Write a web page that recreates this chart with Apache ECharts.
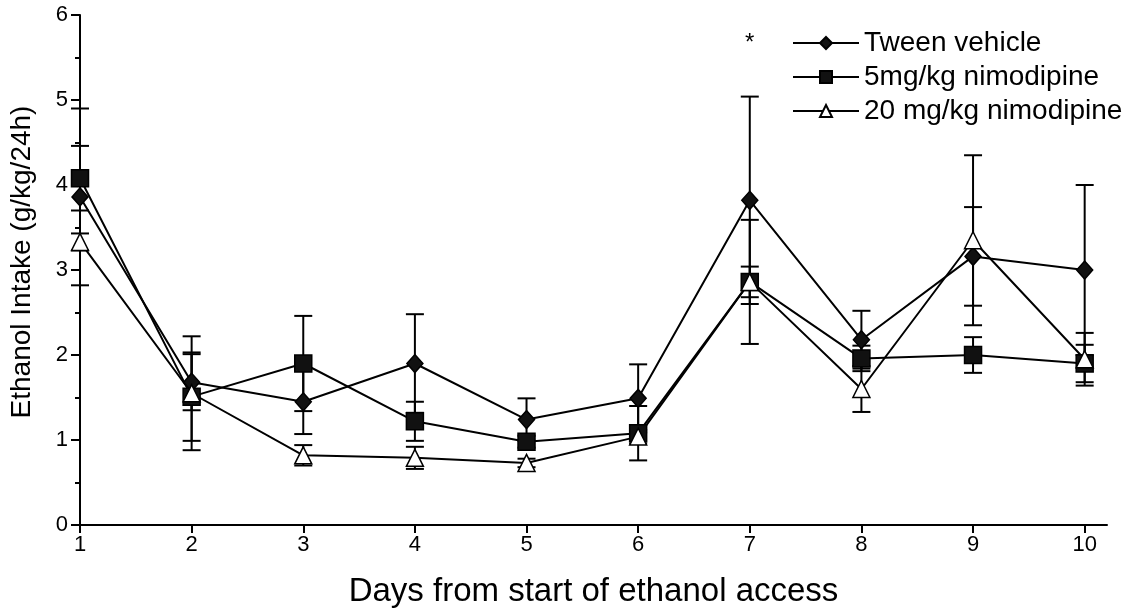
<!DOCTYPE html>
<html>
<head>
<meta charset="utf-8">
<script src="https://cdn.jsdelivr.net/npm/echarts@6/dist/echarts.min.js"></script>
<style>
html,body{margin:0;padding:0;background:#fff;}
#chart{width:1137px;height:614px;}
</style>
</head>
<body>
<div id="chart"></div>
<script>
// ---- data ----
const days = [1, 2, 3, 4, 5, 6, 7, 8, 9, 10];
const xTickLabels = [1, 2, 3, 4, 5, 6, 7, 8, 9, 10];
const yTickLabels = [0, 1, 2, 3, 4, 5, 6];
const seriesNames = ['Tween vehicle', '5mg/kg nimodipine', '20 mg/kg nimodipine'];

const tweenMean = [3.86, 1.68, 1.45, 1.90, 1.24, 1.49, 3.82, 2.18, 3.16, 3.00];
const tweenErr  = [1.04, 0.33, 0.38, 0.58, 0.25, 0.40, 1.22, 0.34, 0.58, 1.00];

const nim5Mean  = [4.08, 1.51, 1.90, 1.22, 0.98, 1.08, 2.86, 1.96, 2.00, 1.90];
const nim5Err   = [0.38, 0.52, 0.56, 0.23, 0.07, 0.32, 0.73, 0.15, 0.21, 0.22];

const nim20Mean = [3.33, 1.55, 0.82, 0.79, 0.73, 1.04, 2.86, 1.60, 3.35, 1.95];
const nim20Err  = [0.10, 0.67, 0.12, 0.13, 0.05, 0.08, 0.18, 0.27, 1.00, 0.31];

// ---- build ----
const FONT = '"Liberation Sans", Arial, Helvetica, sans-serif';
const chart = echarts.init(document.getElementById('chart'), null, {renderer: 'canvas'});

function pairs(means) { return days.map((d, i) => [d, means[i]]); }
function errData(means, errs) { return days.map((d, i) => [d, means[i] - errs[i], means[i] + errs[i]]); }

function errorSeries(means, errs) {
  return {
    type: 'custom',
    silent: true,
    z: 1,
    encode: {x: 0, y: [1, 2]},
    data: errData(means, errs),
    renderItem: function (params, api) {
      const x = api.value(0);
      const lo = api.coord([x, api.value(1)]);
      const hi = api.coord([x, api.value(2)]);
      const hw = 9;
      const st = {stroke: '#000', lineWidth: 2};
      return {
        type: 'group',
        children: [
          {type: 'line', shape: {x1: lo[0], y1: lo[1], x2: hi[0], y2: hi[1]}, style: st},
          {type: 'line', shape: {x1: lo[0] - hw, y1: lo[1], x2: lo[0] + hw, y2: lo[1]}, style: st},
          {type: 'line', shape: {x1: hi[0] - hw, y1: hi[1], x2: hi[0] + hw, y2: hi[1]}, style: st}
        ]
      };
    }
  };
}

function lineSeries(name, means, symbol, size, fill) {
  return {
    name: name,
    type: 'line',
    z: 3,
    data: pairs(means),
    symbol: symbol,
    symbolSize: size,
    showAllSymbol: true,
    lineStyle: {color: '#000', width: 2},
    itemStyle: {color: fill, borderColor: '#000', borderWidth: 1.5},
    emphasis: {disabled: true},
    animation: false
  };
}

const option = {
  animation: false,
  backgroundColor: '#fff',
  grid: {left: 80, right: 30, top: 15, bottom: 89, containLabel: false},
  legend: {
    data: seriesNames,
    orient: 'vertical',
    left: 787,
    top: 24,
    itemWidth: 66,
    itemHeight: 15,
    itemGap: 6,
    selectedMode: false,
    textStyle: {fontFamily: FONT, fontSize: 28, color: '#000', lineHeight: 28}
  },
  graphic: [{
    type: 'text', left: 745, top: 31,
    style: {text: '*', fontFamily: FONT, fontSize: 24, fill: '#000'}
  }],
  xAxis: {
    type: 'value',
    min: 1,
    max: 10.2,
    interval: 1,
    name: 'Days from start of ethanol access',
    nameLocation: 'middle',
    nameGap: 50,
    nameTextStyle: {fontFamily: FONT, fontSize: 33, color: '#000'},
    splitLine: {show: false},
    axisLine: {show: true, onZero: false, lineStyle: {color: '#000', width: 2}},
    axisTick: {show: true, inside: false, length: 8, lineStyle: {color: '#000', width: 2}, customValues: xTickLabels},
    axisLabel: {fontFamily: FONT, fontSize: 22, color: '#000', margin: 9, customValues: xTickLabels}
  },
  yAxis: {
    type: 'value',
    min: 0,
    max: 6,
    interval: 1,
    name: 'Ethanol Intake (g/kg/24h)',
    nameLocation: 'middle',
    nameGap: 44,
    nameTextStyle: {fontFamily: FONT, fontSize: 28, color: '#000', padding: [0, 0, 0, 16]},
    splitLine: {show: false},
    axisLine: {show: true, lineStyle: {color: '#000', width: 2}},
    axisTick: {show: true, inside: false, length: 9, lineStyle: {color: '#000', width: 2}},
    minorTick: {show: true, splitNumber: 2, length: 5, lineStyle: {color: '#000', width: 2}},
    axisLabel: {fontFamily: FONT, fontSize: 22, color: '#000', margin: 12,
      formatter: function (v) { return yTickLabels.indexOf(v) >= 0 ? String(v) : ''; }}
  },
  series: [
    errorSeries(tweenMean, tweenErr),
    errorSeries(nim5Mean, nim5Err),
    errorSeries(nim20Mean, nim20Err),
    lineSeries(seriesNames[0], tweenMean, 'diamond', [16, 18], '#111'),
    lineSeries(seriesNames[1], nim5Mean, 'rect', 17, '#111'),
    lineSeries(seriesNames[2], nim20Mean, 'triangle', 17, '#fff')
  ]
};
chart.setOption(option);
</script>
</body>
</html>
